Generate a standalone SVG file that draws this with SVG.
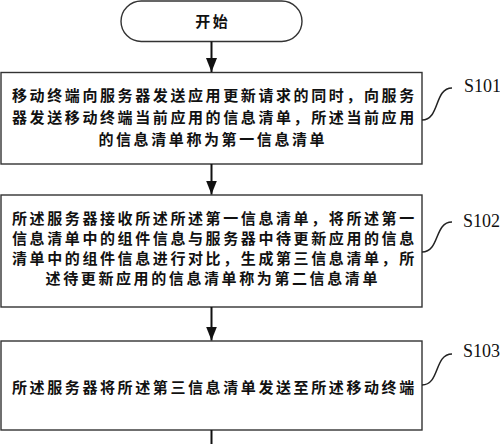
<svg xmlns="http://www.w3.org/2000/svg" width="500" height="444" viewBox="0 0 500 444">
<style>
.box{fill:#fff;stroke:#333;stroke-width:1.4}
.t{font-family:"Noto Sans CJK SC","Noto Sans CJK JP",sans-serif;font-size:15px;font-weight:bold;letter-spacing:2.6px;fill:#111;text-anchor:middle}
.tl{font-family:"Noto Sans CJK SC","Noto Sans CJK JP",sans-serif;font-size:15px;font-weight:bold;letter-spacing:2.6px;fill:#111}
.lbl{font-family:"Liberation Serif",serif;font-size:18px;fill:#111}
.ln{stroke:#111;stroke-width:2;fill:none}
.br{stroke:#222;stroke-width:1.5;fill:none}
</style>
<defs>
<marker id="ah" markerWidth="14" markerHeight="12" refX="14" refY="6" orient="auto" markerUnits="userSpaceOnUse" viewBox="0 0 14 12">
<polygon points="0,0.5 14,6 0,11.5" fill="#111"/>
</marker>
</defs>
<rect width="500" height="444" fill="#fff"/>
<g id="start">
<rect x="121" y="1" width="181" height="40.5" rx="20.25" class="box"/>
<text x="212.8" y="26.5" class="t">开始</text>
</g>
<g id="s101">
<rect x="1" y="72.5" width="421" height="91.5" class="box"/>
<text x="12" y="101" class="tl">移动终端向服务器发送应用更新请求的同时，向服务</text>
<text x="12" y="123" class="tl">器发送移动终端当前应用的信息清单，所述当前应用</text>
<text x="212.8" y="145" class="t">的信息清单称为第一信息清单</text>
<path d="M422,120 C440,120 434,88 452,88" class="br"/>
<text x="464" y="92" class="lbl">S101</text>
</g>
<g id="s102">
<rect x="1" y="195" width="421" height="112" class="box"/>
<text x="12" y="224" class="tl">所述服务器接收所述所述第一信息清单，将所述第一</text>
<text x="12" y="244" class="tl">信息清单中的组件信息与服务器中待更新应用的信息</text>
<text x="12" y="264" class="tl">清单中的组件信息进行对比，生成第三信息清单，所</text>
<text x="212.8" y="284" class="t">述待更新应用的信息清单称为第二信息清单</text>
<path d="M422,252 C440,252 434,222 452,222" class="br"/>
<text x="463" y="227" class="lbl">S102</text>
</g>
<g id="s103">
<rect x="1" y="341" width="421" height="89" class="box"/>
<text x="12" y="392.5" class="tl">所述服务器将所述第三信息清单发送至所述移动终端</text>
<path d="M422,385 C440,385 434,354 452,354" class="br"/>
<text x="463" y="357" class="lbl">S103</text>
</g>
<g id="connectors">
<line x1="211.5" y1="41.5" x2="211.5" y2="72" class="ln" marker-end="url(#ah)"/>
<line x1="211.5" y1="164" x2="211.5" y2="194.5" class="ln" marker-end="url(#ah)"/>
<line x1="211.5" y1="307" x2="211.5" y2="340.5" class="ln" marker-end="url(#ah)"/>
<line x1="211.5" y1="430" x2="211.5" y2="444" class="ln"/>
</g>
</svg>
